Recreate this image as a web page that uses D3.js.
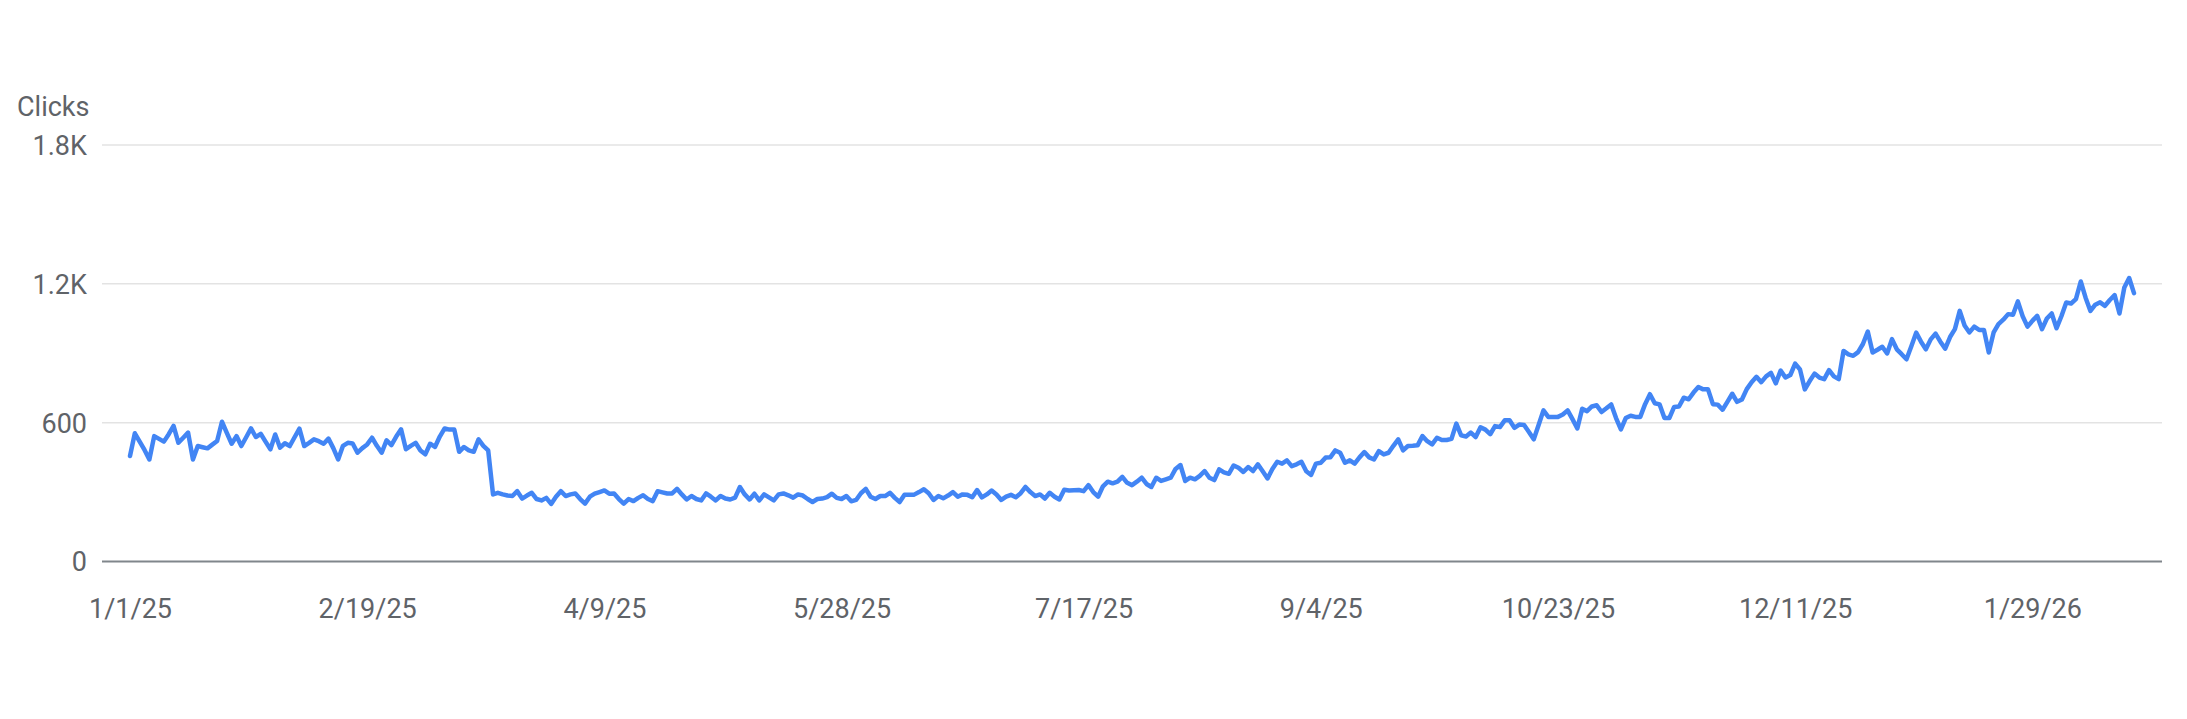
<!DOCTYPE html>
<html>
<head>
<meta charset="utf-8">
<script src="https://cdn.jsdelivr.net/npm/d3@7"></script>
<style>
  body { margin: 0; background: #fff; }
  text { font-family: Roboto, "Noto Sans", sans-serif; }
</style>
</head>
<body>
<svg id="drawing_region"></svg>
<script>
// daily clicks, first value is 1/1/25
var startDate = '2025-01-01';
var clicks = [
  456, 554, 518, 482, 441, 542, 530, 518, 550, 586,
  513, 535, 557, 441, 499, 494, 489, 505, 521, 604,
  556, 509, 542, 499, 537, 575, 538, 552, 518, 485,
  549, 492, 511, 499, 537, 574, 499, 513, 528, 520,
  509, 531, 490, 441, 500, 513, 510, 470, 490, 506,
  535, 500, 470, 524, 503, 540, 571, 485, 500, 513,
  480, 463, 509, 495, 540, 575, 570, 570, 474, 495,
  480, 474, 528, 500, 480, 290, 297, 290, 285, 283,
  304, 272, 285, 297, 270, 264, 275, 249, 280, 304,
  283, 290, 294, 270, 250, 280, 293, 300, 307, 293,
  294, 270, 250, 270, 261, 275, 286, 270, 261, 304,
  299, 294, 294, 314, 290, 268, 283, 270, 264, 294,
  280, 264, 283, 272, 268, 276, 322, 290, 268, 293,
  264, 290, 277, 264, 290, 294, 286, 276, 290, 285,
  270, 257, 270, 272, 278, 293, 275, 270, 283, 260,
  266, 295, 314, 280, 270, 283, 283, 297, 275, 257,
  288, 288, 289, 300, 312, 295, 266, 283, 273, 285,
  300, 280, 290, 288, 278, 309, 277, 290, 307, 290,
  266, 280, 288, 278, 295, 322, 300, 283, 290, 272,
  297, 280, 268, 310, 307, 308, 309, 304, 330, 300,
  280, 325, 345, 338, 345, 366, 340, 330, 345, 362,
  335, 322, 362, 348, 355, 362, 400, 417, 348, 362,
  355, 370, 391, 362, 352, 398, 385, 379, 415, 405,
  387, 408, 391, 420, 390, 359, 400, 431, 423, 437,
  412, 420, 431, 390, 374, 423, 427, 449, 451, 480,
  470, 427, 437, 423, 450, 473, 450, 441, 477, 463,
  470, 500, 528, 480, 499, 500, 502, 542, 520, 506,
  535, 525, 525, 530, 596, 545, 540, 557, 538, 580,
  570, 550, 585, 581, 610, 610, 578, 592, 590, 560,
  528, 590, 653, 625, 625, 625, 635, 653, 615, 575,
  660, 650, 670, 675, 646, 662, 679, 620, 571, 620,
  630, 625, 625, 680, 723, 684, 679, 620, 620, 668,
  670, 708, 701, 730, 754, 744, 744, 680, 678, 656,
  690, 725, 690, 700, 745, 775, 798, 775, 800, 815,
  770, 825, 795, 806, 855, 830, 744, 780, 812, 795,
  788, 827, 800, 788, 910, 895, 889, 905, 940, 994,
  903, 915, 928, 899, 961, 917, 896, 874, 930, 989,
  950, 917, 960, 985, 950, 920, 970, 1004, 1083, 1020,
  990, 1015, 1001, 1001, 903, 990, 1026, 1045, 1069, 1066,
  1124, 1060, 1015, 1040, 1062, 1004, 1050, 1072, 1008, 1060,
  1119, 1115, 1134, 1210, 1140, 1083, 1110, 1120, 1105, 1130,
  1151, 1072, 1184, 1225, 1160
];
var xTickDates = ['2025-01-01', '2025-02-19', '2025-04-09', '2025-05-28', '2025-07-17',
                  '2025-09-04', '2025-10-23', '2025-12-11', '2026-01-29'];
var yTicks = [0, 600, 1200, 1800];
var yTickLabels = ['0', '600', '1.2K', '1.8K'];
var yTitle = 'Clicks';

var width = 2187;
var height = 719;
var grid = {left: 102, right: 2162};//gridline extent
var fontSize = 27;

var svg = d3.select('#drawing_region')
    .attr('width', width)
    .attr('height', height);

var parse = d3.utcParse('%Y-%m-%d');
var t0 = parse(startDate);
var data = clicks.map((v, i) => ({date: d3.utcDay.offset(t0, i), value: v}));

const xscale = d3.scaleUtc()
      .domain(d3.extent(data, d => d.date))
      .range([130, 2134]);

const yscale = d3.scaleLinear()
      .domain([0, 1800])
      .range([561.5, 145]);

// horizontal gridlines
svg.append('g').selectAll('line').data(yTicks.filter(t => t > 0)).enter()
    .append('line')
    .attr('x1', grid.left).attr('x2', grid.right)
    .attr('y1', d => yscale(d)).attr('y2', d => yscale(d))
    .attr('stroke', '#e3e3e3')
    .attr('stroke-width', 1.5);

// y labels
const yaxis = d3.axisLeft(yscale)
      .tickValues(yTicks)
      .tickFormat((d, i) => yTickLabels[i])
      .tickSize(0)
      .tickPadding(0);

const yaxis_group = svg.append('g')
      .attr('transform', 'translate(87,0)')
      .call(yaxis);
yaxis_group.select('.domain').remove();
yaxis_group.selectAll('text')
    .attr('font-size', fontSize)
    .attr('font-family', 'Roboto, sans-serif')
    .attr('fill', '#5f6368')
    .attr('dy', '0.35em');

svg.append('text')
    .attr('x', 17).attr('y', 116)
    .attr('font-size', fontSize)
    .attr('fill', '#5f6368')
    .text(yTitle);

// x axis
const xaxis = d3.axisBottom(xscale)
      .tickValues(xTickDates.map(parse))
      .tickFormat(d3.utcFormat('%-m/%-d/%y'))
      .tickSize(0)
      .tickPadding(0);

const xaxis_group = svg.append('g')
      .attr('transform', 'translate(0,599)')
      .call(xaxis);
xaxis_group.select('.domain').remove();
xaxis_group.selectAll('text')
    .attr('font-size', fontSize)
    .attr('font-family', 'Roboto, sans-serif')
    .attr('fill', '#5f6368')
    .attr('dy', '0.71em');

// baseline
svg.append('line')
    .attr('x1', grid.left).attr('x2', grid.right)
    .attr('y1', yscale(0)).attr('y2', yscale(0))
    .attr('stroke', '#80868b')
    .attr('stroke-width', 2);

// the line
const line = d3.line()
      .x(d => xscale(d.date))
      .y(d => yscale(d.value));

svg.append('path')
    .datum(data)
    .attr('d', line)
    .attr('fill', 'none')
    .attr('stroke', '#4285f4')
    .attr('stroke-width', 4.5)
    .attr('stroke-linejoin', 'round')
    .attr('stroke-linecap', 'round');
</script>
</body>
</html>
